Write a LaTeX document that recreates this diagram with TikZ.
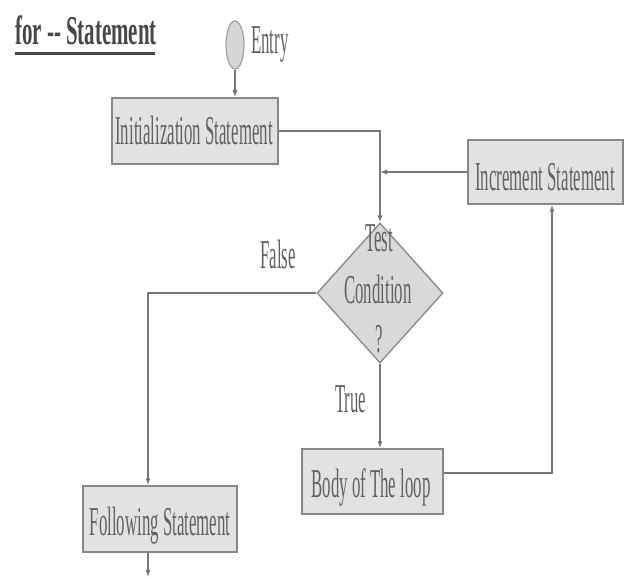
\documentclass[tikz,border=0pt]{standalone}
\usepackage{fontspec}
\usetikzlibrary{arrows.meta,shapes.geometric}
\newfontfamily\condfont[FakeStretch=0.41]{Liberation Serif}
\newfontfamily\titlefont[FakeStretch=0.51]{Liberation Serif Bold}
\definecolor{txtgray}{HTML}{626262}
\definecolor{titlegray}{HTML}{474747}
\definecolor{boxfill}{HTML}{E2E2E2}
\definecolor{ellfill}{HTML}{D6D6D6}
\definecolor{boxdraw}{HTML}{888888}
\definecolor{linegray}{HTML}{777777}
\definecolor{tipgray}{HTML}{555555}
\begin{document}
\begin{tikzpicture}[x=1pt,y=-1pt,
  lbl/.style={font=\condfont\fontsize{41}{50}\selectfont, text=txtgray, inner sep=0pt},
  box/.style={draw=boxdraw, line width=1.5pt, fill=boxfill, inner sep=0pt},
  conn/.style={draw=linegray, line width=1.1pt, -{Latex[length=7pt,width=5pt,fill=tipgray]}},
]
\useasboundingbox (0,0) rectangle (629,577);
\fill[white] (0,0) rectangle (629,577);

% title
\node[anchor=base west, inner sep=0pt, text=titlegray, font=\titlefont\fontsize{41}{50}\selectfont] (title) at (15,45) {for -{}- Statement};
\draw[titlegray, line width=2.6pt] (15,53.5) -- (155,53.5);

% entry
\node[ellipse, draw=boxdraw!80, line width=1.2pt, fill=ellfill, minimum width=18pt, minimum height=48pt, inner sep=0pt] (entry) at (235,45) {};
\node[lbl, anchor=base west] (entrylbl) at (251,54) {Entry};

% boxes
\node[box, minimum width=166pt, minimum height=66pt] (init) at (195,131) {};
\node[lbl, anchor=base] at (194,145) {Initialization Statement};

\node[box, minimum width=155pt, minimum height=64pt] (inc) at (545.5,172) {};
\node[lbl, anchor=base] at (545,191) {Increment Statement};

\node[diamond, draw=boxdraw, line width=1.3pt, fill=boxfill!96!black, minimum width=126pt, minimum height=140pt, inner sep=0pt] (cond) at (380,293) {};
\node[lbl, anchor=base] (t1) at (379,252) {Test};
\node[lbl, anchor=base] (t2) at (378,304) {Condition};
\node[lbl, anchor=base] (t3) at (379,352) {?};

\node[box, minimum width=141pt, minimum height=65pt] (body) at (372.5,481.5) {};
\node[lbl, anchor=base] at (371,497) {Body of The loop};

\node[box, minimum width=154pt, minimum height=66pt] (follow) at (160,519) {};
\node[lbl, anchor=base] at (160,535) {Following Statement};

\node[lbl, anchor=base west] (falselbl) at (260,269) {False};
\node[lbl, anchor=base west] (truelbl) at (335,412) {True};

\coordinate (out) at (148,577);

% connectors
\draw[conn] (entry.south) -- (entry.south |- init.north);
\draw[conn] (init.east) -| (cond.north);
\draw[conn] (inc.west) -- (cond.north |- inc.west);
\draw[conn] (cond.west) -| ([xshift=-12pt]follow.north);
\draw[conn] (cond.south) -- (cond.south |- body.north);
\draw[conn] ([yshift=8.5pt]body.east) -| ([xshift=6.5pt]inc.south);
\draw[conn] ([xshift=-12pt]follow.south) -- (out);
\end{tikzpicture}
\end{document}
